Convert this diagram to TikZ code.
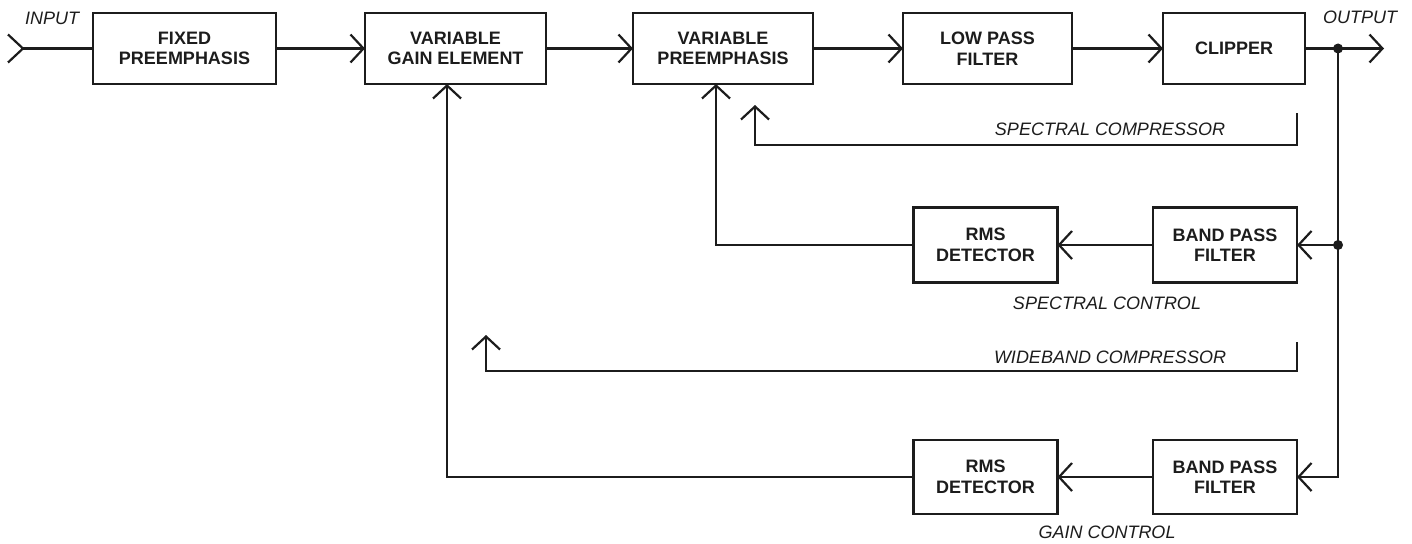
\documentclass[tikz,border=0pt]{standalone}
\usepackage{fontspec}
\setmainfont{Liberation Sans}
\usetikzlibrary{arrows.meta}
\definecolor{ink}{HTML}{1C1C1C}
\tikzset{
  blk/.style={draw=ink, line width=2.2pt, inner sep=0pt, outer sep=0pt, align=center,
    font=\fontsize{18}{20.5}\selectfont\bfseries, text=ink},
  lbl/.style={font=\fontsize{18}{20}\selectfont\itshape, text=ink, inner sep=0pt},
  wire/.style={draw=ink, line width=2.2pt},
  arr/.style={wire, -{Straight Barb[length=13pt,width=28pt,line width=2.2pt]}},
  dot/.style={circle, fill=ink, inner sep=0pt, minimum size=10pt}
}
\begin{document}
\begin{tikzpicture}[x=1pt,y=-1pt]
\useasboundingbox (0,0) rectangle (1412,543);
% main row
\node[blk, minimum width=183pt, minimum height=71pt] (fixed) at (184.5,48.5) {FIXED\\PREEMPHASIS};
\node[blk, minimum width=181pt, minimum height=71pt] (vge) at (455.5,48.5) {VARIABLE\\GAIN ELEMENT};
\node[blk, minimum width=180pt, minimum height=71pt] (vpre) at (723,48.5) {VARIABLE\\PREEMPHASIS};
\node[blk, minimum width=169pt, minimum height=71pt] (lpf) at (987.5,48.5) {LOW PASS\\FILTER};
\node[blk, minimum width=142pt, minimum height=71pt] (clip) at (1234,48.5) {CLIPPER};
% spectral control row
\node[blk, minimum width=144pt, minimum height=75pt] (rms1) at (985.5,245) {RMS\\DETECTOR};
\node[blk, minimum width=144pt, minimum height=75pt] (bpf1) at (1225,245) {BAND PASS\\FILTER};
% gain control row
\node[blk, minimum width=144pt, minimum height=74pt] (rms2) at (985.5,477) {RMS\\DETECTOR};
\node[blk, minimum width=144pt, minimum height=74pt] (bpf2) at (1225,477) {BAND PASS\\FILTER};
% labels
\node[lbl] (tin) at (52,18) {INPUT};
\node[lbl] (tout) at (1360,17) {OUTPUT};
\node[lbl] (tsc) at (1110,129) {SPECTRAL COMPRESSOR};
\node[lbl] (twc) at (1110,357) {WIDEBAND COMPRESSOR};
\node[lbl] (tsctl) at (1107,303) {SPECTRAL CONTROL};
\node[lbl] (tgc) at (1107,532) {GAIN CONTROL};
% coordinates
\coordinate (in) at (23,48.5);
\coordinate (j1) at (1338,48.5);
\coordinate (out) at (1384,48.5);
\coordinate (j2) at (1338,245);
\coordinate (c3) at (1338,477);
\coordinate (sp) at (716,245);
\coordinate (gn) at (447,477);
\node[dot] at (j1) {};
\node[dot] at (j2) {};
% input chevron and line
\draw[wire, line join=miter] (8,34.5) -- (in) -- (8,62.5);
\draw[wire] (in) -- (fixed.west);
% forward path
\draw[arr] (fixed.east) -- (vge.west);
\draw[arr] (vge.east) -- (vpre.west);
\draw[arr] (vpre.east) -- (lpf.west);
\draw[arr] (lpf.east) -- (clip.west);
\draw[wire] (clip.east) -- (j1);
\draw[arr] (j1) -- (out);
% feedback
\draw[wire] (j1) -- (j2);
\draw[arr] (j2) -- (bpf1.east);
\draw[arr] (bpf1.west) -- (rms1.east);
\draw[arr] (rms1.west) -- (sp) -- (sp |- vpre.south);
\draw[arr] (j2) -- (c3) -- (bpf2.east);
\draw[arr] (bpf2.west) -- (rms2.east);
\draw[arr] (rms2.west) -- (gn) -- (gn |- vge.south);
% brackets
\coordinate (sc1) at (1297,113);
\coordinate (sc2) at (1297,145);
\coordinate (sc3) at (755,145);
\coordinate (sc4) at (755,105);
\draw[arr] (sc1) -- (sc2) -- (sc3) -- (sc4);
\coordinate (wc1) at (1297,342);
\coordinate (wc2) at (1297,371);
\coordinate (wc3) at (486,371);
\coordinate (wc4) at (486,335);
\draw[arr] (wc1) -- (wc2) -- (wc3) -- (wc4);
\end{tikzpicture}
\end{document}
